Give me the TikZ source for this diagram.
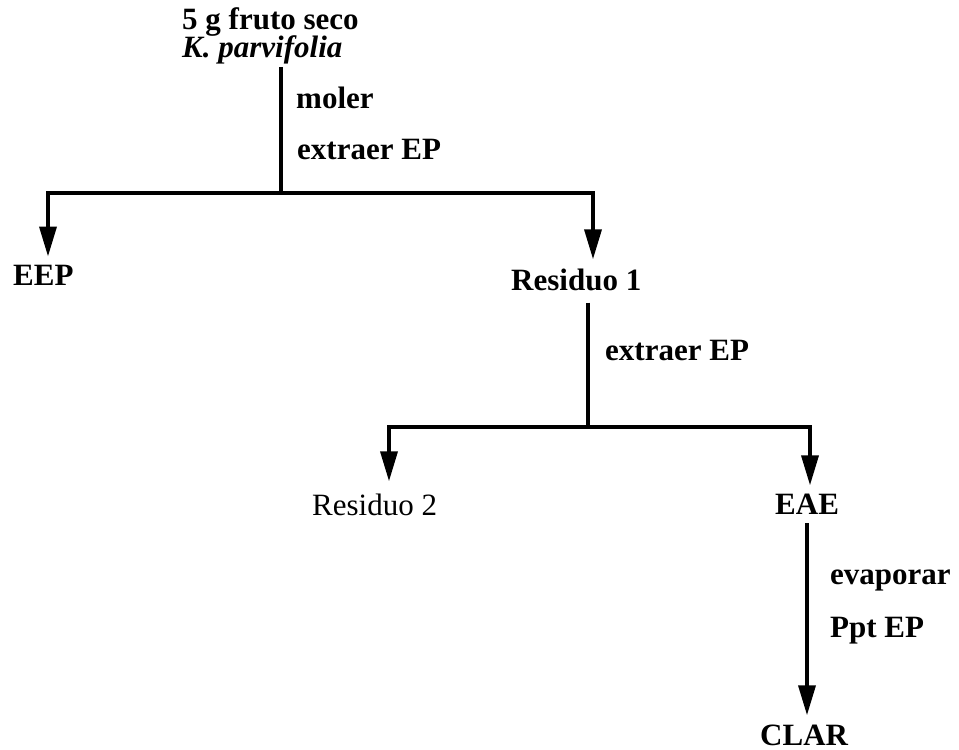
\documentclass[tikz,border=0pt]{standalone}
\usepackage{fontspec}
\setmainfont{Liberation Serif}
\usetikzlibrary{arrows.meta}
\begin{document}
\begin{tikzpicture}[x=1pt,y=-1pt,
  lbl/.style={anchor=base west, inner sep=0pt, font=\fontsize{31}{34}\selectfont\bfseries},
  lblreg/.style={anchor=base west, inner sep=0pt, font=\fontsize{31}{34}\selectfont},
  flow/.style={line width=3.6pt},
  arr/.style={flow, -{Triangle[length=30pt,width=17pt]}}]
\useasboundingbox (0,0) rectangle (959,750);
% texts
\node[lbl] (t1) at (182,29) {5 g fruto seco};
\node[lbl, font=\fontsize{31}{34}\selectfont\bfseries\itshape] (t2) at (182,57) {K. parvifolia};
\node[lbl] (m1) at (296,108) {moler};
\node[lbl] (m2) at (297,159) {extraer EP};
\node[lbl] (eep) at (13,285) {EEP};
\node[lbl] (r1) at (511,290) {Residuo 1};
\node[lbl] (m3) at (605,360) {extraer EP};
\node[lblreg] (r2) at (312,515) {Residuo 2};
\node[lbl] (eae) at (775,514) {EAE};
\node[lbl] (m4) at (830,584) {evaporar};
\node[lbl] (m5) at (830,637) {Ppt EP};
\node[lbl] (clar) at (760,745) {CLAR};
% junctions
\coordinate (j1) at (281,193);
\coordinate (jl1) at (48,193);
\coordinate (jr1) at (593,193);
\coordinate (j2) at (588,427);
\coordinate (jl2) at (389,427);
\coordinate (jr2) at (810,427);
\coordinate (s3) at (807,0);
% connectors
\draw[flow] ([yshift=-3pt]t2.south -| j1) -- (j1);
\draw[flow, line cap=rect] (jl1) -- (jr1);
\draw[arr, shorten >=8pt] (jl1) -- (jl1 |- eep.north);
\draw[arr, shorten >=9pt] (jr1) -- (jr1 |- r1.north);
\draw[flow] ([yshift=-12pt]r1.south -| j2) -- (j2);
\draw[flow, line cap=rect] (jl2) -- (jr2);
\draw[arr, shorten >=12pt] (jl2) -- (jl2 |- r2.north);
\draw[arr, shorten >=8pt] (jr2) -- (jr2 |- eae.north);
\draw[arr, shorten >=9pt] ([yshift=-9pt]eae.south -| s3) -- (s3 |- clar.north);
\end{tikzpicture}
\end{document}
